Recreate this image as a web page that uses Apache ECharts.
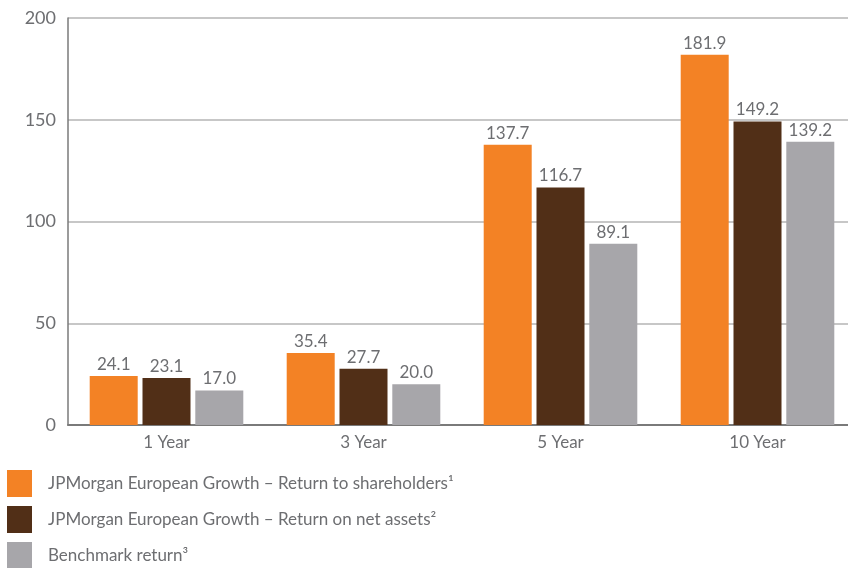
<!DOCTYPE html>
<html>
<head>
<meta charset="utf-8">
<script src="https://cdn.jsdelivr.net/npm/echarts@6/dist/echarts.min.js"></script>
<style>
html, body { margin: 0; padding: 0; background: #fff; }
#chart { width: 848px; height: 568px; }
</style>
</head>
<body>
<div id="chart"></div>
<script>
var categories = ["1 Year", "3 Year", "5 Year", "10 Year"];
var shareholders = [24.1, 35.4, 137.7, 181.9];
var netAssets = [23.1, 27.7, 116.7, 149.2];
var benchmark = [17.0, 20.0, 89.1, 139.2];
var yTicks = [0, 50, 100, 150, 200];

var labelColor = "#6d6e71";
var fontName = "Lato";

function barLabel() {
    return {
        show: true,
        position: "top",
        distance: 3,
        color: labelColor,
        fontFamily: fontName,
        fontSize: 17,
        formatter: function(p) { return p.value.toFixed(1); }
    };
}

var chart = echarts.init(document.getElementById("chart"));

var option = {
    animation: false,
    grid: {
        left: 68,
        top: 18,
        right: -8,
        bottom: 143,
        outerBoundsMode: "none"
    },
    legend: {
        orient: "vertical",
        left: 2,
        top: 465,
        height: 110,
        itemWidth: 25,
        itemHeight: 27,
        itemGap: 9,
        icon: "rect",
        textStyle: {
            color: labelColor,
            fontFamily: fontName,
            fontSize: 17,
            padding: [0, 0, 0, 11]
        },
        data: [
            "JPMorgan European Growth – Return to shareholders¹",
            "JPMorgan European Growth – Return on net assets²",
            "Benchmark return³"
        ]
    },
    xAxis: {
        type: "category",
        data: categories,
        axisLine: { lineStyle: { color: "#7a7a7a", width: 2 } },
        axisTick: { length: 8, lineStyle: { color: "#7a7a7a" } },
        axisLabel: {
            color: labelColor,
            fontFamily: fontName,
            fontSize: 17,
            margin: 9
        }
    },
    yAxis: {
        type: "value",
        min: yTicks[0],
        max: yTicks[yTicks.length - 1],
        interval: 50,
        axisLine: { show: true, lineStyle: { color: "#7a7a7a", width: 1.5 } },
        axisTick: { show: false },
        axisLabel: {
            color: labelColor,
            fontFamily: fontName,
            fontSize: 18,
            margin: 12
        },
        splitLine: { lineStyle: { color: "#b5b5b5", width: 1.5 } }
    },
    series: [{
        name: "JPMorgan European Growth – Return to shareholders¹",
        type: "bar",
        data: shareholders,
        barWidth: 48,
        barGap: "10%",
        itemStyle: { color: "#f38225" },
        label: barLabel()
    }, {
        name: "JPMorgan European Growth – Return on net assets²",
        type: "bar",
        data: netAssets,
        barWidth: 48,
        barGap: "10%",
        itemStyle: { color: "#512f17" },
        label: barLabel()
    }, {
        name: "Benchmark return³",
        type: "bar",
        data: benchmark,
        barWidth: 48,
        barGap: "10%",
        itemStyle: { color: "#a7a6aa" },
        label: barLabel()
    }]
};

chart.setOption(option);
</script>
</body>
</html>
